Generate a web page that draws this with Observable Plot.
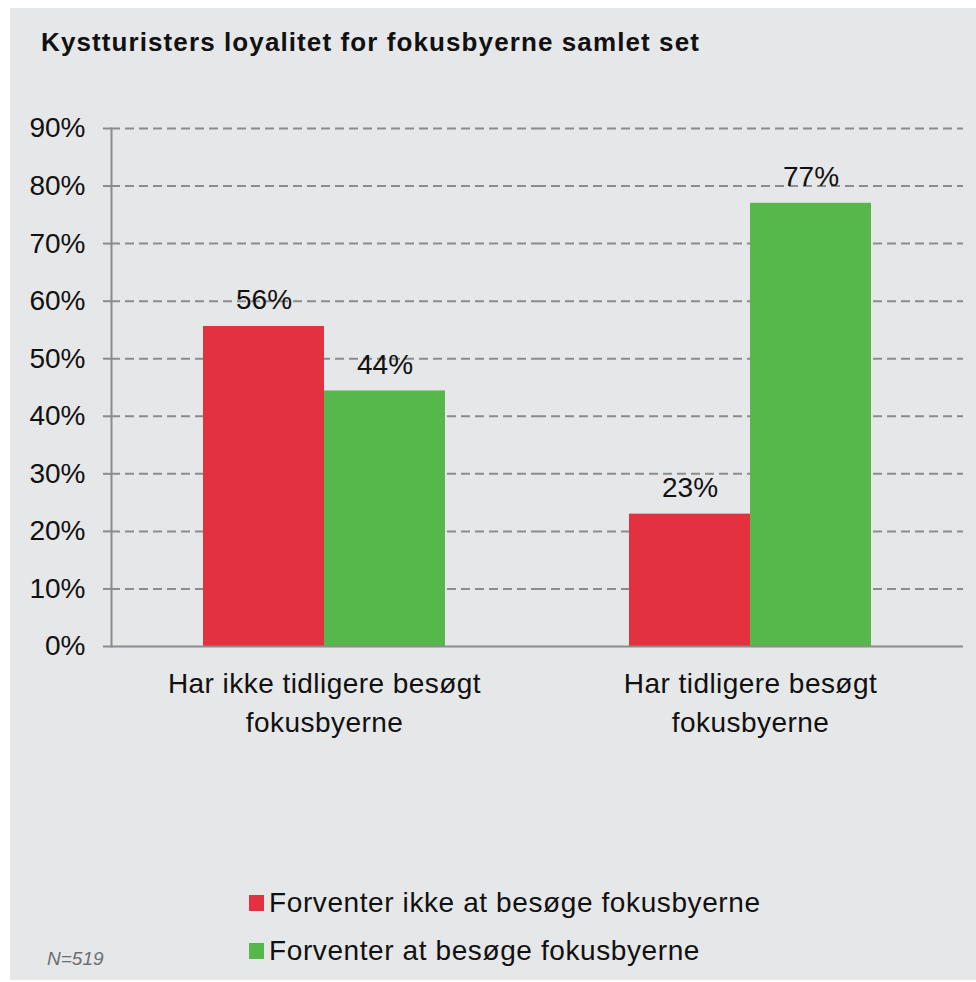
<!DOCTYPE html>
<html>
<head>
<meta charset="utf-8">
<script src="https://cdn.jsdelivr.net/npm/d3@7"></script>
<script src="https://cdn.jsdelivr.net/npm/@observablehq/plot@0.6"></script>
<style>
  html, body { margin: 0; padding: 0; background: #ffffff; }
  body { width: 976px; height: 982px; position: relative; overflow: hidden; font-family: "Liberation Sans", Arial, sans-serif; }
  #panel { position: absolute; left: 10px; top: 8px; width: 966px; height: 972px; background: #e6e7e8; }
  #title { position: absolute; left: 41px; top: 29px; font-size: 26px; line-height: 26px; font-weight: bold; letter-spacing: 1.1px; color: #111; white-space: nowrap; }
  #chart { position: absolute; left: 10px; top: 100px; }
  #chart svg [aria-label="fx-axis tick label"] text { letter-spacing: 0.45px; }
  .legend-item { position: absolute; left: 249px; height: 28px; font-size: 28px; line-height: 28px; letter-spacing: 0.6px; color: #111; white-space: nowrap; display: flex; align-items: flex-start; }
  .swatch { width: 15px; height: 16px; margin-top: 6px; margin-right: 5px; flex: none; }
  #caption { position: absolute; left: 47px; top: 949px; font-size: 19px; line-height: 19px; font-style: italic; color: #6d6e70; }
</style>
</head>
<body>
<div id="panel"></div>
<div id="title"></div>
<div id="chart"></div>
<div id="legend"></div>
<div id="caption"></div>
<script>
// ---- data ----
const titleText = "Kystturisters loyalitet for fokusbyerne samlet set";
const captionText = "N=519";
const categories = ["Har ikke tidligere besøgt fokusbyerne", "Har tidligere besøgt fokusbyerne"];
const categoryTickLabels = ["Har ikke tidligere besøgt\nfokusbyerne", "Har tidligere besøgt\nfokusbyerne"];
const seriesNames = ["Forventer ikke at besøge fokusbyerne", "Forventer at besøge fokusbyerne"];
const seriesColors = ["#e3313f", "#56b74b"];
const notExpectValues = [55.6, 23.0];
const expectValues = [44.4, 77.0];
const yTicks = [0, 10, 20, 30, 40, 50, 60, 70, 80, 90];

// ---- table ----
const data = [];
categories.forEach((c, i) => {
  data.push({category: c, series: seriesNames[0], value: notExpectValues[i]});
  data.push({category: c, series: seriesNames[1], value: expectValues[i]});
});

document.getElementById("title").textContent = titleText;
document.getElementById("caption").textContent = captionText;

const gridColor = "#8c8c8c";

const chart = Plot.plot({
  width: 966,
  height: 646,
  marginLeft: 101,
  marginRight: 13,
  marginTop: 28,
  marginBottom: 100,
  style: {background: "transparent", fontFamily: "Liberation Sans, Arial, sans-serif", color: "#111", overflow: "visible"},
  fx: {domain: categories, padding: 0, label: null, axis: null},
  x: {domain: seriesNames, paddingInner: 0, paddingOuter: 0.746, axis: null},
  y: {domain: [0, 90], axis: null},
  color: {domain: seriesNames, range: seriesColors},
  marks: [
    Plot.ruleY(yTicks.filter(d => d > 0), {stroke: gridColor, strokeWidth: 2, strokeDasharray: "9,5"}),
    Plot.barY(data, {fx: "category", x: "series", y: "value", fill: "series"}),
    Plot.text(data, {fx: "category", x: "series", y: "value", text: d => Math.round(d.value) + "%", lineAnchor: "bottom", dy: -17, fontSize: 28, fill: "#111"}),
    Plot.ruleY([0], {stroke: gridColor, strokeWidth: 2}),
    Plot.frame({anchor: "left", stroke: gridColor, strokeWidth: 2, facetAnchor: "left"}),
    Plot.axisY({ticks: yTicks, tickFormat: d => d + "%", tickSize: 8, tickPadding: 18, stroke: gridColor, strokeWidth: 2, fill: "#111", fontSize: 28, label: null}),
    Plot.axisFx({anchor: "bottom", tickFormat: d => categoryTickLabels[categories.indexOf(d)], tickSize: 0, tickPadding: 19, lineHeight: 1.38, fontSize: 28, fill: "#111", label: null})
  ]
});
document.getElementById("chart").appendChild(chart);

// ---- legend ----
const legend = document.getElementById("legend");
const legendTops = [889, 937];
seriesNames.forEach((name, i) => {
  const item = document.createElement("div");
  item.className = "legend-item";
  item.style.top = legendTops[i] + "px";
  const sw = document.createElement("span");
  sw.className = "swatch";
  sw.style.background = seriesColors[i];
  const label = document.createElement("span");
  label.textContent = name;
  item.appendChild(sw);
  item.appendChild(label);
  legend.appendChild(item);
});
</script>
</body>
</html>
